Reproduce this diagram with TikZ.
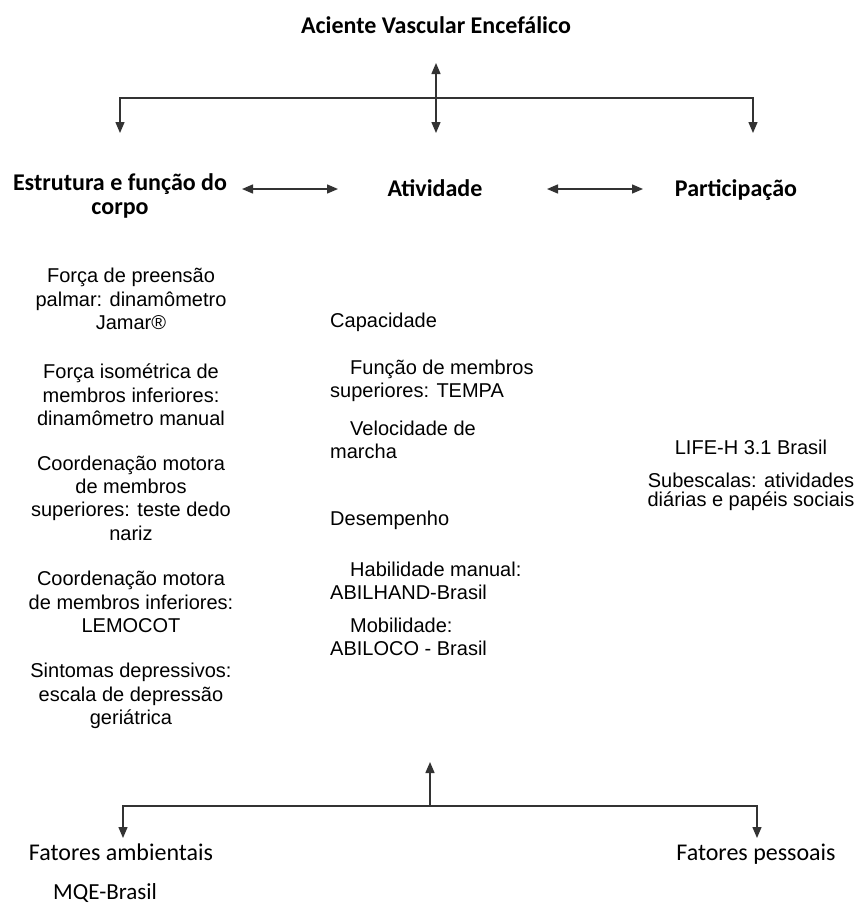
\documentclass[tikz,border=0pt]{standalone}
\usepackage{fontspec}
\setmainfont{Liberation Sans}
\newfontfamily\calfont{Carlito}
\usetikzlibrary{arrows.meta}

\begin{document}
\begin{tikzpicture}[x=1pt, y=-1pt,
        head/.style={font=\calfont\bfseries\fontsize{24}{24}\selectfont, inner sep=0pt, align=center},
        foot/.style={font=\calfont\fontsize{24}{24}\selectfont, inner sep=0pt, anchor=base},
        txt/.style={font=\fontsize{20}{23.3}\selectfont, align=center, inner sep=0pt},
        mid/.style={font=\fontsize{20}{23.5}\selectfont, align=left, anchor=west, inner sep=0pt},
        arr/.style={-{Triangle[length=11pt, width=9pt]}, line width=1.4pt, black!80},
        dbl/.style={{Triangle[length=11pt, width=9pt]}-{Triangle[length=11pt, width=9pt]}, line width=1.4pt, black!80},
    ]
    \useasboundingbox (0,0) rectangle (861,906);

    % Topo
    \node[head] (avc) at (436,25) {Aciente Vascular Encefálico};
    \coordinate (hub) at (436,98);
    \coordinate (avc-tip) at (436,63);
    \coordinate (ativ-tip) at (436,133);
    \coordinate (estr-tip) at (120,133);
    \coordinate (part-tip) at (753,133);

    \draw[arr] (hub) -- (avc-tip);
    \draw[arr] (hub) -- (ativ-tip);
    \draw[arr] (hub) -| (estr-tip);
    \draw[arr] (hub) -| (part-tip);

    % Componentes
    \node[head] (estr) at (120,196) {Estrutura e função do\\corpo};
    \node[head, anchor=base] (ativ) at (435,196) {Atividade};
    \node[head, anchor=base] (part) at (736,196) {Participação};

    \coordinate (ea-l) at (242,189);
    \coordinate (ea-r) at (338,189);
    \coordinate (ap-l) at (547,189);
    \coordinate (ap-r) at (643,189);
    \draw[dbl] (ea-l) -- (ea-r);
    \draw[dbl] (ap-l) -- (ap-r);

    % Estrutura e funcao
    \node[txt] (forca-pp) at (131,299) {Força de preensão\\palmar: dinamômetro\\Jamar®};
    \node[txt] (forca-iso) at (131,395) {Força isométrica de\\membros inferiores:\\dinamômetro manual};
    \node[txt] (coord-ms) at (131,498) {Coordenação motora\\de membros\\superiores: teste dedo\\nariz};
    \node[txt] (coord-mi) at (131,602) {Coordenação motora\\de membros inferiores:\\LEMOCOT};
    \node[txt] (depr) at (131,696) {Sintomas depressivos:\\escala de depressão\\geriátrica};

    % Atividade
    \node[mid] (cap) at (330,322) {Capacidade};
    \node[mid] (tempa) at (330,381) {\hspace*{20pt}Função de membros\\superiores: TEMPA};
    \node[mid] (marcha) at (330,440) {\hspace*{20pt}Velocidade de\\marcha};
    \node[mid] (desemp) at (330,520) {Desempenho};
    \node[mid] (abilhand) at (330,581) {\hspace*{20pt}Habilidade manual:\\ABILHAND-Brasil};
    \node[mid] (abiloco) at (330,637) {\hspace*{20pt}Mobilidade:\\ABILOCO - Brasil};

    % Participacao
    \node[txt] (lifeh) at (751,447) {LIFE-H 3.1 Brasil};
    \node[txt, font=\fontsize{20}{19.5}\selectfont] (subesc) at (751,492) {Subescalas: atividades\\diárias e papéis sociais};

    % Fatores contextuais
    \coordinate (hub2) at (430,806);
    \coordinate (up-tip) at (430,762);
    \coordinate (amb-tip) at (123,838);
    \coordinate (pes-tip) at (757,838);

    \draw[arr] (hub2) -- (up-tip);
    \draw[arr] (hub2) -| (amb-tip);
    \draw[arr] (hub2) -| (pes-tip);

    \node[foot] (amb) at (121,860) {Fatores ambientais};
    \node[foot] (pes) at (756,860) {Fatores pessoais};
    \node[foot, anchor=base west, font=\calfont\fontsize{23}{23}\selectfont] (mqe) at (53,899) {MQE-Brasil};
\end{tikzpicture}
\end{document}
